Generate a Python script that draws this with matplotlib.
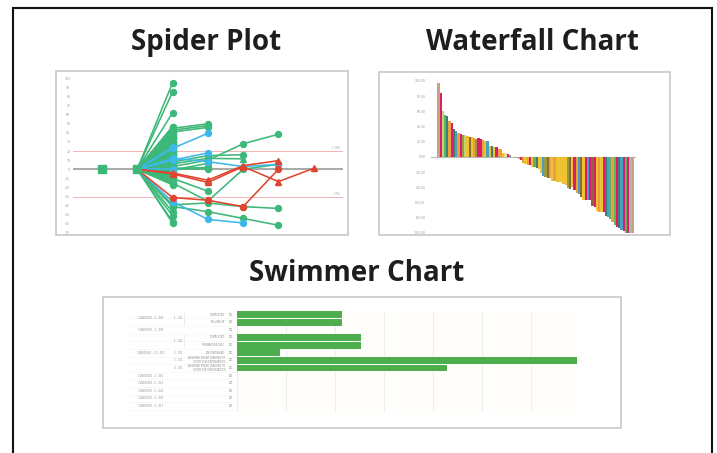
import matplotlib
matplotlib.use("Agg")
import matplotlib.pyplot as plt
from matplotlib.patches import Rectangle
import matplotlib.transforms as mtransforms

W, H = 717, 453

# ---------------- data ----------------
# spider plot: % change from baseline at visits 1..6 (visit 0 = lone baseline)
spider_green = [
    [0, 95], [0, 85], [0, 62],
    [0, 45, 50], [0, 43, 48], [0, 41, 46],
    [0, 47], [0, 46], [0, 44], [0, 42], [0, 40], [0, 39], [0, 38], [0, 37],
    [0, 36], [0, 35], [0, 34], [0, 33], [0, 32], [0, 31], [0, 30], [0, 29],
    [0, 28], [0, 27], [0, 26], [0, 25], [0, 23], [0, 22], [0, 21], [0, 20],
    [0, 19], [0, 18], [0, 17], [0, 16], [0, 15], [0, 14], [0, 13], [0, 11],
    [0, 10], [0, 9], [0, 7], [0, 6], [0, 5], [0, 4], [0, 2], [0, -2],
    [0, -3], [0, -4], [0, -5], [0, -6], [0, -7], [0, -8], [0, -9], [0, -11],
    [0, -12], [0, -13], [0, -14], [0, -15], [0, -16], [0, -17],
    [0, 3, 10, 28, 38.5],
    [0, 8, 15, 16],
    [0, 1, 2],
    [0, 0, 0],
    [0, -1, 6.6],
    [0, -15, -35, 0, 5.5],
    [0, -10, -24],
    [0, -41, -46.5, -54, -61.5],
    [0, -39, -37, -41, -43],
    [0, -46.5], [0, -51], [0, -57.5], [0, -59],
]
spider_green_tri = [[0, 6, 12, 11.5]]
spider_blue = [
    [0, 23, 39.5],
    [0, 10, 18],
    [0, 12, 8.4, 3, 5.5],
    [0, -35.5, -55, -59],
    [0, 24], [0, 0],
]
spider_red_tri = [
    [0, -4, -12, 4, 9.5],
    [0, -5, -14.5, 3, -13.5, 1],
]
spider_red = [[0, -31, -34, -41, 0]]
spider_yticks = list(range(-70, 101, 10))

# waterfall: best % change, sorted
wf_values = [98, 84, 60, 55.5, 54, 48, 45, 37, 34.7, 31.5, 30.7, 29, 29, 28, 26.7,
             25.8, 25.3, 24, 25.3, 24, 22, 21.3, 21, 14.7, 14.7, 13.3, 13.3, 10.7,
             10.7, 5.3, 4.9, 3.6, 2.7,
             0.5, 0.3, -0.8,
             -3, -4.4, -7.5, -9.8, -11, -11, -13, -13.3, -14.7, -15.5, -21, -25,
             -26.7, -28, -28, -31, -32, -33.3, -33.3,
             -33, -35, -37, -40.5, -42, -40, -44, -47, -49, -52, -56, -56, -57, -57,
             -65, -66, -70.5, -72, -72.7, -72.7, -77, -79, -81.5, -86, -89, -91.6,
             -93.4, -96, -97.8, -100, -100, -100, -100]
wf_cats = ["T", "M", "LG", "G", "DT", "O", "M", "DT", "B", "O", "M", "OL", "LG", "Y", "BR",
           "Y", "O", "OL", "M", "M", "O", "Y", "B", "Y", "DT", "Y", "M", "O", "O", "Y",
           "LY", "M", "B",
           "GR", "GR", "T",
           "T", "M", "O", "Y", "O", "M", "Y", "G", "DT", "Y", "Y", "B", "OL", "BR", "O",
           "Y", "O", "Y", "Y",
           "Y", "Y", "Y", "OL", "BR", "Y", "M", "O", "B", "BR", "Y", "M", "B", "M", "BR",
           "M", "Y", "O", "Y", "M", "DT", "B", "G", "O", "G", "M", "DT", "B", "M", "G",
           "M", "GR", "T"]
wf_yticks = list(range(-100, 101, 20))

# swimmer: treatment duration per row
sw_duration = [2.14, 2.14, 0, 2.53, 2.53, 0.88, 6.94, 4.29, 0, 0, 0, 0, 0]
sw_status = ["COMPLETED", "FOLLOW-UP", "", "COMPLETED", "PREMATURE DISC.", "DISCONTINUED",
             "ADVERSE EVENT LEADING TO\nSTUDY DISCONTINUATION",
             "ADVERSE EVENT LEADING TO\nSTUDY DISCONTINUATION", "", "", "", "", ""]
sw_period = [("1 - 001", 0, 1), ("1 - 001", 3, 4), ("2 - 001", 5, 5),
             ("3 - 001", 6, 6), ("4 - 001", 7, 7)]
sw_subject = [("CLN000002 - 1 - 008", 0, 1), ("CLN000002 - 1 - 009", 2, 2),
              ("CLN000002 - 1 0 - 017", 3, 7), ("CLN000002 - 2 - 010", 8, 8),
              ("CLN000002 - 2 - 013", 9, 9), ("CLN000002 - 2 - 020", 10, 10),
              ("CLN000002 - 3 - 008", 11, 11), ("CLN000002 - 3 - 017", 12, 12)]

# ---------------- style ----------------
GREEN = "#3cb878"
BLUE = "#3db8ea"
RED = "#e0452f"
PAL = {"M": "#e01a6f", "Y": "#efc232", "O": "#e8a040", "T": "#c2a57c", "G": "#5cb55a",
       "LG": "#bcd47a", "DT": "#3d7f76", "B": "#4aa0c0", "OL": "#9a9a40",
       "BR": "#8a6a32", "LY": "#f2dc8a", "GR": "#b0b4ae"}
TITLE_FONT = dict(family=["Open Sans", "DejaVu Sans"], fontweight="bold",
                  fontsize=20, color="#1e1e1e")
LW, MS = 1.15, 4.3


def px_box(x0, y0, x1, y1):
    return [x0 / W, 1 - y1 / H, (x1 - x0) / W, (y1 - y0) / H]


def frame(x0, y0, x1, y1, color, lw):
    fig.add_artist(Rectangle((x0 / W, 1 - y1 / H), (x1 - x0) / W, (y1 - y0) / H,
                             transform=fig.transFigure, fill=False,
                             edgecolor=color, linewidth=lw))


fig = plt.figure(figsize=(W / 100, H / 100), dpi=100)
fig.patch.set_facecolor("white")

frame(13, 8, 712, 470, "#111111", 1.5)
frame(56, 71, 348, 235, "#c8c8c8", 1.2)
frame(379, 72, 670, 235, "#c8c8c8", 1.2)
frame(103, 297, 621, 428, "#c8c8c8", 1.2)

fig.text(206 / W, 1 - 50 / H, "Spider Plot", ha="center", va="baseline", **TITLE_FONT)
fig.text(532 / W, 1 - 50 / H, "Waterfall Chart", ha="center", va="baseline", **TITLE_FONT)
fig.text(357 / W, 1 - 281 / H, "Swimmer Chart", ha="center", va="baseline", **TITLE_FONT)

# ---------------- spider ----------------
ax1 = fig.add_axes(px_box(73, 76, 343, 234))
ax1.set_xlim(-0.82, 6.83)
ax1.set_ylim(-71.1, 102.5)
ax1.axhline(0, color="#aaaaaa", lw=1.5, zorder=1)
ax1.axhline(20, color="#f2a8a8", lw=0.6, zorder=1)
ax1.axhline(-30, color="#f2a8a8", lw=0.6, zorder=1)
ax1.text(6.75, 21, "+ 20%", fontsize=2, color="#999999", ha="right", va="bottom")
ax1.text(6.75, -29, "- 30%", fontsize=2, color="#999999", ha="right", va="bottom")
ax1.plot([0], [0], marker="s", ms=5.8, color=GREEN, ls="none", zorder=3)
for ys in spider_green:
    ax1.plot(range(1, len(ys) + 1), ys, color=GREEN, lw=LW, marker="o", ms=MS, zorder=2)
for ys in spider_green_tri:
    ax1.plot(range(1, len(ys) + 1), ys, color=GREEN, lw=LW, marker="^", ms=MS, zorder=2)
for ys in spider_blue:
    ax1.plot(range(1, len(ys) + 1), ys, color=BLUE, lw=LW, marker="o", ms=MS, zorder=3)
for ys in spider_red:
    ax1.plot(range(1, len(ys) + 1), ys, color=RED, lw=LW, marker="o", ms=MS, zorder=4)
for ys in spider_red_tri:
    ax1.plot(range(1, len(ys) + 1), ys, color=RED, lw=LW, marker="^", ms=MS, zorder=4)
ax1.plot([1], [0], marker="s", ms=5.8, color=GREEN, ls="none", zorder=5)
ax1.set_yticks(spider_yticks)
ax1.set_yticklabels([str(v) for v in spider_yticks])
ax1.set_xticks([])
ax1.tick_params(axis="y", length=0, labelsize=2.2, labelcolor="#999999", pad=2)
for s in ax1.spines.values():
    s.set_visible(False)
ax1.patch.set_alpha(0)

# ---------------- waterfall ----------------
ax2 = fig.add_axes(px_box(431, 81, 636, 233))
ax2.bar(range(len(wf_values)), wf_values, width=1.0,
        color=[PAL[c] for c in wf_cats], linewidth=0)
ax2.axhline(0, color="#b8b8b8", lw=0.8, zorder=0)
ax2.set_xlim(-3.32, 88.5)
ax2.set_ylim(-100, 100)
ax2.set_yticks(wf_yticks)
ax2.set_yticklabels(["%.2f" % v for v in wf_yticks])
ax2.set_xticks([])
ax2.tick_params(axis="y", length=0, labelsize=2.2, labelcolor="#999999", pad=4)
for s in ax2.spines.values():
    s.set_visible(False)
ax2.patch.set_alpha(0)

# ---------------- swimmer ----------------
ax3 = fig.add_axes(px_box(237, 311, 577, 412.3))
ax3.set_facecolor("#fffefb")
rows = range(len(sw_duration))
ax3.barh(rows, sw_duration, height=0.9, color="#4cae4c", linewidth=0, zorder=2)
ax3.set_xlim(0, 6.94)
ax3.set_ylim(12.82, -0.47)
ax3.set_xticks(range(0, 7))
ax3.set_yticks([])
ax3.grid(axis="x", color="#eeeeee", lw=0.8, zorder=0)
ax3.tick_params(axis="x", length=0, labelbottom=False)
for s in ax3.spines.values():
    s.set_visible(False)

lab = mtransforms.blended_transform_factory(ax3.transAxes, ax3.transData)


def ax_x(px):
    return (px - 237) / 340.0


small = dict(fontsize=1.8, color="#888888", transform=lab, va="center", clip_on=False)
for i, st in enumerate(sw_status):
    ax3.text(ax_x(233.5), i, "001", ha="right", **small)
    if st:
        ax3.text(ax_x(225), i, st, ha="right", linespacing=0.9, **small)
for name, r0, r1 in sw_period:
    ax3.text(ax_x(174), (r0 + r1) / 2, name, ha="left", **small)
    if r1 > r0:
        ax3.plot([ax_x(184), ax_x(184)], [r0 - 0.4, r1 + 0.4], transform=lab,
                 color="#dddddd", lw=0.4, clip_on=False)
for name, r0, r1 in sw_subject:
    ax3.text(ax_x(151), (r0 + r1) / 2, name, ha="center", **small)
for i in rows:
    ax3.plot([ax_x(128), ax_x(236)], [i + 0.5, i + 0.5], transform=lab,
             color="#f3f3f3", lw=0.4, clip_on=False)

fig.savefig("out.png", dpi=100)
